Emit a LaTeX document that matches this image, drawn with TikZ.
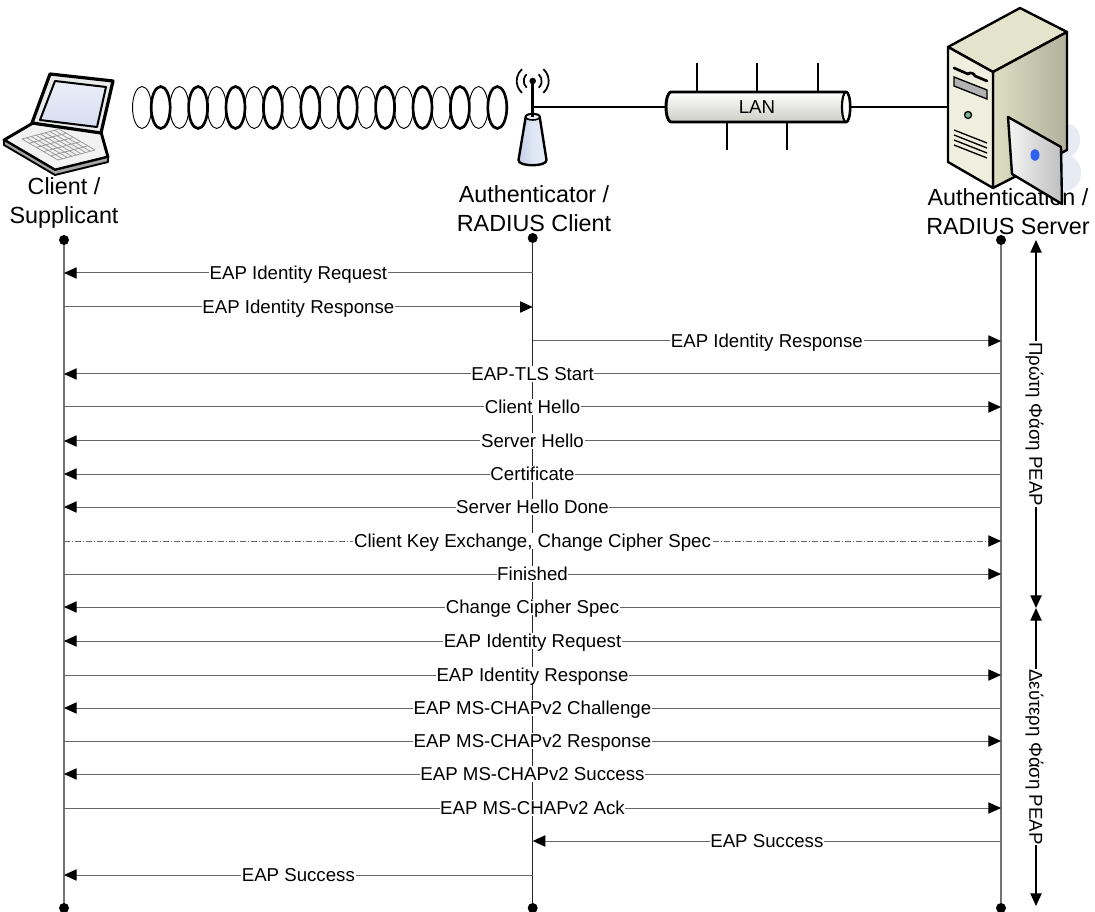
\documentclass[tikz,border=0pt]{standalone}
\usepackage{fontspec}
\setmainfont{Liberation Sans}
\usetikzlibrary{arrows.meta,calc}
\definecolor{screenblue}{HTML}{D6DDF1}
\definecolor{conetop}{HTML}{E9EEF8}
\definecolor{coneside}{HTML}{C3D0EA}
\definecolor{pipefill}{HTML}{F1F1E8}
\definecolor{srvfront}{HTML}{EFEFDF}
\definecolor{srvtop}{HTML}{E4E4CD}
\definecolor{srvside}{HTML}{DEDEC4}
\definecolor{ghost}{HTML}{E6EBF4}
\definecolor{btngreen}{HTML}{78B494}
\definecolor{chipblue}{HTML}{3060F0}
\begin{document}
\begin{tikzpicture}[x=0.75pt,y=-0.75pt,
  outline/.style={line width=1.8pt,line join=round,line cap=round},
  life/.style={draw=black!55,line width=1.3pt},
  lifedark/.style={draw=black!85,line width=0.9pt},
  dotnode/.style={circle,fill=black,inner sep=0pt,minimum size=7.5pt},
  msg/.style={draw=black!60,line width=0.75pt,
    -{Triangle[length=9.5pt,width=8.5pt,fill=black,color=black]}},
  dashdotmsg/.style={msg,dash pattern=on 4.5pt off 1.5pt on 0.75pt off 1.5pt},
  phase/.style={draw=black,line width=0.8pt,
    {Triangle[length=9.5pt,width=8.5pt]}-{Triangle[length=9.5pt,width=8.5pt]}},
  lbl/.style={fill=white,inner xsep=0.5pt,inner ysep=1pt,text height=10pt,
    text depth=0pt,font=\fontsize{14}{16}\selectfont},
  hdr/.style={align=center,inner sep=0pt,font=\fontsize{17.5}{21.5}\selectfont},
]
\useasboundingbox (0,0) rectangle (1095,912);

% ---------- wireless link (helix) ----------
\foreach \i in {0,2,...,18}{
  \pgfmathsetmacro\cx{142+18.7*\i}
  \draw[line width=0.7pt] (\cx,107.5) ellipse [x radius=9.5, y radius=21];
}
\foreach \i in {1,3,...,19}{
  \pgfmathsetmacro\cx{142+18.7*\i}
  \draw[line width=2pt] (\cx,107.5) ellipse [x radius=9.5, y radius=21];
}

% ---------- laptop ----------
\draw[outline,line width=2.2pt,fill=black!5] (33,123) -- (4,140) -- (55,170) -- (108,157) -- (101,132) -- cycle;
\draw[line width=1.4pt,line join=round,fill=black!35] (4,140) -- (4,145) -- (55,175) -- (108,162) -- (108,157) -- (55,170) -- cycle;
\coordinate (kL) at (22,139);
\coordinate (kF) at (58,160);
\coordinate (kR) at (95,150);
\coordinate (kB) at (59,129);
\foreach \t in {0,0.2,...,1.01}{
  \draw[black!40,line width=0.6pt] ($(kL)!\t!(kF)$) -- ($(kB)!\t!(kR)$);
}
\foreach \t in {0,0.125,...,1.01}{
  \draw[black!40,line width=0.6pt] ($(kL)!\t!(kB)$) -- ($(kF)!\t!(kR)$);
}
\draw[outline,line width=2.4pt,fill=black!8] (50,74) -- (113,81) -- (101,133) -- (32,123) -- cycle;
\draw[line width=1.5pt,line join=round,top color=screenblue!50,bottom color=screenblue]
  (55,81) -- (106,87) -- (97,127) -- (40,120) -- cycle;

% ---------- access point ----------
\coordinate (ap) at (532.7,107);
\draw[outline,left color=coneside,right color=conetop,middle color=conetop!70!coneside]
  (525.7,117) -- (518.5,160) .. controls (518,167) and (547,167) .. (546.5,160)
  -- (539.7,117) arc[start angle=0,end angle=-180,x radius=7,y radius=3] -- cycle;
\draw[line width=1.2pt,fill=conetop] (532.7,117) ellipse [x radius=7,y radius=3];
\draw[line width=2pt] (532.7,84) -- (532.7,117);
\fill (532.7,81) circle [radius=3.3];
\foreach \r in {9,16}{
  \draw[line width=1.3pt] (532.7,81) ++(132:\r) arc[start angle=132,end angle=228,radius=\r];
  \draw[line width=1.3pt] (532.7,81) ++(-48:\r) arc[start angle=-48,end angle=48,radius=\r];
}

% ---------- LAN segment ----------
\coordinate (lanL) at (666,107);
\coordinate (lanR) at (850,107);
\coordinate (srv) at (948,107);
\draw[line width=1.8pt] (ap) -- (lanL);
\draw[line width=1.8pt] (lanR) -- (srv);
\foreach \x in {697,757,818}{ \draw[line width=1pt] (\x,63) -- (\x,92); }
\foreach \x in {727,787}{ \draw[line width=1pt] (\x,122) -- (\x,150); }
\draw[outline,line width=2.2pt,top color=white,bottom color=pipefill!85!black]
  (671,92) -- (846,92) arc[start angle=-90,end angle=90,x radius=4,y radius=15]
  -- (671,122) arc[start angle=90,end angle=270,x radius=5,y radius=15] -- cycle;
\draw[line width=1.6pt,fill=white] (846,107) ellipse [x radius=4,y radius=15];
\node[font=\fontsize{14}{16}\selectfont] (lan) at (757,107) {LAN};

% ---------- server ----------
\fill[ghost] (1064,124) .. controls (1083,122) and (1085,148) .. (1071,156)
  .. controls (1087,164) and (1084,193) .. (1060,192) -- cycle;
\draw[outline,fill=srvtop] (948,47) -- (1020,8) -- (1067,32) -- (993,72) -- cycle;
\draw[outline,left color=srvside,right color=srvside!80!black] (993,72) -- (1067,32) -- (1067,150) -- (993,188) -- cycle;
\draw[outline,fill=srvfront] (948,47) -- (993,72) -- (993,188) -- (948,162) -- cycle;
\draw[line width=2pt,line cap=round] (954,68) -- (968,74) .. controls (970,72) and (974,73) .. (975,76) -- (987,81);
\draw[line width=1pt,fill=black!30] (954,77) -- (987,90) -- (987,99) -- (954,86) -- cycle;
\draw[line width=1pt,fill=btngreen] (968,115) circle [radius=3.5];
\foreach \d in {0,5,10,15}{ \draw[line width=1pt] (954,130+\d) -- (987,143+\d); }

% ---------- headers ----------
\node[hdr] (hc) at (64,203) {Client /\\Supplicant};
\node[hdr] (ha) at (534,208.5) {Authenticator /\\RADIUS Client};
\node[hdr] (hs) at (1008,211.5) {Authentication /\\RADIUS Server};

% smart card in front of the server
\draw[outline,left color=black!4,right color=black!25] (1008,117) -- (1061,147) -- (1062,204) -- (1012,174) -- cycle;
\fill[chipblue] (1035,155) ellipse [x radius=4.5,y radius=6];

% ---------- lifelines ----------
\node[dotnode] (c0) at (64,240) {};
\node[dotnode] (c1) at (64,908) {};
\node[dotnode] (a0) at (532.7,238) {};
\node[dotnode] (a1) at (532.7,908) {};
\node[dotnode] (s0) at (1001,240) {};
\node[dotnode] (s1) at (1001,908) {};
\draw[life] (c0) -- (c1);
\draw[lifedark] (a0) -- (a1);
\draw[life] (s0) -- (s1);

\foreach \n/\y in {1/273,2/307,3/341,4/374,5/407,6/441,7/474,8/507,9/541,10/574,
                   11/607,12/641,13/675,14/708,15/741,16/774,17/808,18/841,19/875}{
  \coordinate (C\n) at (64,\y);
  \coordinate (A\n) at (532.7,\y);
  \coordinate (S\n) at (1001,\y);
}

% ---------- messages ----------
\draw[msg] (A1) -- node[lbl] {EAP Identity Request} (C1);
\draw[msg] (C2) -- node[lbl] {EAP Identity Response} (A2);
\draw[msg] (A3) -- node[lbl] {EAP Identity Response} (S3);
\draw[msg] (S4) -- node[lbl] {EAP-TLS Start} (C4);
\draw[msg] (C5) -- node[lbl] {Client Hello} (S5);
\draw[msg] (S6) -- node[lbl] {Server Hello} (C6);
\draw[msg] (S7) -- node[lbl] {Certificate} (C7);
\draw[msg] (S8) -- node[lbl] {Server Hello Done} (C8);
\draw[dashdotmsg] (C9) -- node[lbl] {Client Key Exchange, Change Cipher Spec} (S9);
\draw[msg] (C10) -- node[lbl] {Finished} (S10);
\draw[msg] (S11) -- node[lbl] {Change Cipher Spec} (C11);
\draw[msg] (S12) -- node[lbl] {EAP Identity Request} (C12);
\draw[msg] (C13) -- node[lbl] {EAP Identity Response} (S13);
\draw[msg] (S14) -- node[lbl] {EAP MS-CHAPv2 Challenge} (C14);
\draw[msg] (C15) -- node[lbl] {EAP MS-CHAPv2 Response} (S15);
\draw[msg] (S16) -- node[lbl] {EAP MS-CHAPv2 Success} (C16);
\draw[msg] (C17) -- node[lbl] {EAP MS-CHAPv2 Ack} (S17);
\draw[msg] (S18) -- node[lbl] {EAP Success} (A18);
\draw[msg] (A19) -- node[lbl] {EAP Success} (C19);

% ---------- PEAP phases ----------
\coordinate (p0) at (1036,240);
\coordinate (p1) at (1036,608);
\coordinate (p2) at (1036,906);
\draw[phase] (p0) -- node[lbl,rotate=-90] {Πρώτη Φάση PEAP} (p1);
\draw[phase] (p1) -- node[lbl,rotate=-90] {Δεύτερη Φάση PEAP} (p2);
\end{tikzpicture}
\end{document}
